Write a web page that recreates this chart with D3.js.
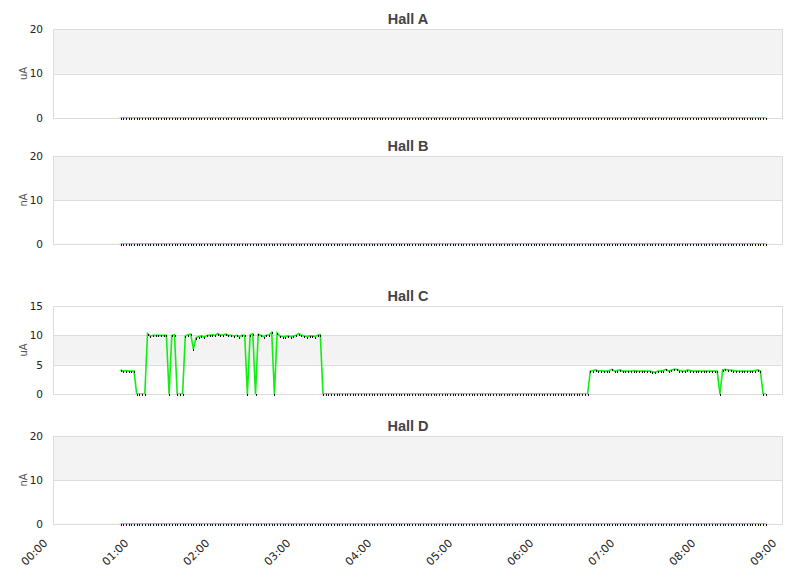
<!DOCTYPE html>
<html>
<head>
<meta charset="utf-8">
<script src="https://cdn.jsdelivr.net/npm/d3@7/dist/d3.min.js"></script>
<style>
  html, body { margin: 0; padding: 0; background: #fff; }
  svg { display: block; }
</style>
</head>
<body>
<svg id="chart" width="811" height="578"></svg>
<script>
// ---------------- DATA ----------------
const panelTitles = ["Hall A", "Hall B", "Hall C", "Hall D"];
const panelUnits = ["uA", "nA", "uA", "nA"];
const yMaxima = [20, 20, 15, 20];
const yTickValues = [[0, 10, 20], [0, 10, 20], [0, 5, 10, 15], [0, 10, 20]];
const xTickLabels = ["00:00", "01:00", "02:00", "03:00", "04:00", "05:00", "06:00", "07:00", "08:00", "09:00"];
const sampleStart = "00:50";   // first sample time
const sampleStepMinutes = 2;   // sampling interval

const hallA = [
  0,0,0,0,0,0,0,0,0,0,0,0,0,0,0,0,0,0,0,0,0,0,0,0,0,0,0,0,0,0,0,0,0,0,0,0,0,0,0,0,
  0,0,0,0,0,0,0,0,0,0,0,0,0,0,0,0,0,0,0,0,0,0,0,0,0,0,0,0,0,0,0,0,0,0,0,0,0,0,0,0,
  0,0,0,0,0,0,0,0,0,0,0,0,0,0,0,0,0,0,0,0,0,0,0,0,0,0,0,0,0,0,0,0,0,0,0,0,0,0,0,0,
  0,0,0,0,0,0,0,0,0,0,0,0,0,0,0,0,0,0,0,0,0,0,0,0,0,0,0,0,0,0,0,0,0,0,0,0,0,0,0,0,
  0,0,0,0,0,0,0,0,0,0,0,0,0,0,0,0,0,0,0,0,0,0,0,0,0,0,0,0,0,0,0,0,0,0,0,0,0,0,0,0,
  0,0,0,0,0,0,0,0,0,0,0,0,0,0,0,0,0,0,0,0,0,0,0,0,0,0,0,0,0,0,0,0,0,0,0,0,0,0,0,0
];
const hallB = [
  0,0,0,0,0,0,0,0,0,0,0,0,0,0,0,0,0,0,0,0,0,0,0,0,0,0,0,0,0,0,0,0,0,0,0,0,0,0,0,0,
  0,0,0,0,0,0,0,0,0,0,0,0,0,0,0,0,0,0,0,0,0,0,0,0,0,0,0,0,0,0,0,0,0,0,0,0,0,0,0,0,
  0,0,0,0,0,0,0,0,0,0,0,0,0,0,0,0,0,0,0,0,0,0,0,0,0,0,0,0,0,0,0,0,0,0,0,0,0,0,0,0,
  0,0,0,0,0,0,0,0,0,0,0,0,0,0,0,0,0,0,0,0,0,0,0,0,0,0,0,0,0,0,0,0,0,0,0,0,0,0,0,0,
  0,0,0,0,0,0,0,0,0,0,0,0,0,0,0,0,0,0,0,0,0,0,0,0,0,0,0,0,0,0,0,0,0,0,0,0,0,0,0,0,
  0,0,0,0,0,0,0,0,0,0,0,0,0,0,0,0,0,0,0,0,0,0,0,0,0,0,0,0,0,0,0,0,0,0,0,0,0,0,0,0
];
const hallC = [
  4.1,3.9,4.0,3.9,3.9,3.9,
  0,0,0,0,
  10.3,9.9,10.0,10.0,10.0,10.0,10.0,10.0,
  0,
  10.0,10.1,
  0,0,0,
  9.9,10.1,10.2,
  7.7,
  9.6,
  9.8,9.9,9.7,10.0,10.0,10.1,10.0,10.3,10.0,10.1,10.2,10.0,10.0,9.9,10.0,9.8,10.0,10.0,
  0,
  10.1,10.3,
  0,
  10.2,10.0,9.8,10.0,10.1,10.5,
  0,
  10.4,
  9.9,9.8,9.8,9.9,9.8,9.9,10.0,10.3,10.0,9.9,9.8,9.9,9.9,9.8,10.0,10.1,
  0,0,0,0,0,0,0,0,0,0,0,0,0,0,0,0,0,0,0,0,0,0,0,0,0,0,0,0,0,0,0,0,0,
  0,0,0,0,0,0,0,0,0,0,0,0,0,0,0,0,0,0,0,0,0,0,0,0,0,0,0,0,0,0,0,0,0,
  0,0,0,0,0,0,0,0,0,0,0,0,0,0,0,0,0,0,0,0,0,0,0,0,0,0,0,0,0,0,0,0,0,
  3.9,4.0,4.1,3.9,4.0,3.9,3.9,4.0,4.2,3.9,
  4.0,4.1,3.9,3.9,3.9,3.9,4.0,3.9,3.9,3.9,
  3.9,3.9,3.9,3.8,3.7,3.9,3.9,4.0,4.2,3.9,
  4.1,4.2,4.2,4.0,3.9,3.9,4.1,4.0,3.9,3.9,
  3.9,3.9,3.9,3.9,3.9,3.9,3.9,3.9,
  0,
  4.1,4.2,4.1,4.1,4.0,3.9,3.9,3.9,3.9,3.9,3.9,3.9,4.0,4.1,3.9,
  0,0
];
const hallD = [
  0,0,0,0,0,0,0,0,0,0,0,0,0,0,0,0,0,0,0,0,0,0,0,0,0,0,0,0,0,0,0,0,0,0,0,0,0,0,0,0,
  0,0,0,0,0,0,0,0,0,0,0,0,0,0,0,0,0,0,0,0,0,0,0,0,0,0,0,0,0,0,0,0,0,0,0,0,0,0,0,0,
  0,0,0,0,0,0,0,0,0,0,0,0,0,0,0,0,0,0,0,0,0,0,0,0,0,0,0,0,0,0,0,0,0,0,0,0,0,0,0,0,
  0,0,0,0,0,0,0,0,0,0,0,0,0,0,0,0,0,0,0,0,0,0,0,0,0,0,0,0,0,0,0,0,0,0,0,0,0,0,0,0,
  0,0,0,0,0,0,0,0,0,0,0,0,0,0,0,0,0,0,0,0,0,0,0,0,0,0,0,0,0,0,0,0,0,0,0,0,0,0,0,0,
  0,0,0,0,0,0,0,0,0,0,0,0,0,0,0,0,0,0,0,0,0,0,0,0,0,0,0,0,0,0,0,0,0,0,0,0,0,0,0,0
];
const seriesList = [hallA, hallB, hallC, hallD];

// ---------------- LAYOUT ----------------
const plotLeft = 53, plotRight = 782;
const panels = [
  { top: 29,  bottom: 118, titleY: 24 },
  { top: 156, bottom: 244, titleY: 151 },
  { top: 306, bottom: 394, titleY: 301 },
  { top: 436, bottom: 524, titleY: 431 }
];
const lineColor = "#11ee11";
const gridColor = "#dcdcdc";
const bandColor = "#f3f3f3";

const parseHM = d3.timeParse("%H:%M");
const x = d3.scaleTime()
  .domain([parseHM(xTickLabels[0]), parseHM(xTickLabels[xTickLabels.length - 1])])
  .range([plotLeft, plotRight]);
const t0 = parseHM(sampleStart);
const timeOf = i => d3.timeMinute.offset(t0, i * sampleStepMinutes);

const svg = d3.select("#chart");

panels.forEach((p, k) => {
  const y = d3.scaleLinear().domain([0, yMaxima[k]]).range([p.bottom, p.top]);
  const g = svg.append("g");
  const ticks = yTickValues[k];

  // alternating bands
  for (let j = 0; j < ticks.length - 1; j++) {
    if (j % 2 === 1) {
      g.append("rect")
        .attr("x", plotLeft).attr("width", plotRight - plotLeft)
        .attr("y", y(ticks[j + 1])).attr("height", y(ticks[j]) - y(ticks[j + 1]))
        .attr("fill", bandColor);
    }
  }
  // grid lines
  g.selectAll("line.grid").data(ticks).enter().append("line")
    .attr("x1", plotLeft).attr("x2", plotRight)
    .attr("y1", d => Math.round(y(d)) + 0.5).attr("y2", d => Math.round(y(d)) + 0.5)
    .attr("stroke", gridColor).attr("stroke-width", 1);
  // frame
  g.append("line").attr("x1", plotLeft + 0.5).attr("x2", plotLeft + 0.5)
    .attr("y1", p.top).attr("y2", p.bottom + 1).attr("stroke", gridColor);
  g.append("line").attr("x1", plotRight + 0.5).attr("x2", plotRight + 0.5)
    .attr("y1", p.top).attr("y2", p.bottom + 1).attr("stroke", gridColor);

  // y axis labels
  const yAxis = d3.axisLeft(y).tickValues(ticks).tickSize(0).tickPadding(10);
  const ya = g.append("g").attr("transform", `translate(${plotLeft},0)`).call(yAxis);
  ya.select(".domain").remove();
  ya.selectAll("text").attr("font-family", "DejaVu Sans").attr("font-size", 10.5).attr("fill", "#222");

  // unit label
  g.append("text")
    .attr("transform", `translate(27,${(p.top + p.bottom) / 2}) rotate(-90)`)
    .attr("text-anchor", "middle")
    .attr("font-family", "DejaVu Sans").attr("font-size", 10).attr("fill", "#555")
    .text(panelUnits[k]);

  // title
  g.append("text")
    .attr("x", 408).attr("y", p.titleY)
    .attr("text-anchor", "middle")
    .attr("font-family", "Liberation Sans, Arial, sans-serif").attr("font-weight", "bold")
    .attr("font-size", 14.5).attr("fill", "#444")
    .text(panelTitles[k]);

  // series
  const data = seriesList[k].map((v, i) => ({ t: timeOf(i), v }));
  const clipId = "clip" + k;
  svg.append("clipPath").attr("id", clipId).append("rect")
    .attr("x", plotLeft).attr("y", p.top).attr("width", plotRight - plotLeft).attr("height", p.bottom - p.top);
  const line = d3.line().x(d => x(d.t)).y(d => y(d.v));
  g.append("path").datum(data)
    .attr("clip-path", `url(#${clipId})`)
    .attr("d", line).attr("fill", "none")
    .attr("stroke", lineColor).attr("stroke-width", 1.6);
  g.selectAll("rect.pt").data(data).enter().append("rect")
    .attr("x", d => Math.round(x(d.t))).attr("y", d => Math.round(y(d.v)) - 0.5)
    .attr("width", 1).attr("height", 2).attr("fill", "#111")
    .attr("shape-rendering", "crispEdges");
});

// x axis (bottom panel)
const last = panels[panels.length - 1];
const xAxis = d3.axisBottom(x)
  .tickValues(xTickLabels.map(parseHM))
  .tickFormat(d3.timeFormat("%H:%M"))
  .tickSize(0).tickPadding(0);
const xa = svg.append("g").attr("transform", `translate(0,${last.bottom + 10})`).call(xAxis);
xa.select(".domain").remove();
xa.selectAll("text")
  .attr("font-family", "DejaVu Sans").attr("font-size", 11).attr("fill", "#222")
  .attr("text-anchor", "end")
  .attr("y", 0).attr("dy", "0.35em")
  .attr("transform", "translate(-8,7) rotate(-45)");
</script>
</body>
</html>
